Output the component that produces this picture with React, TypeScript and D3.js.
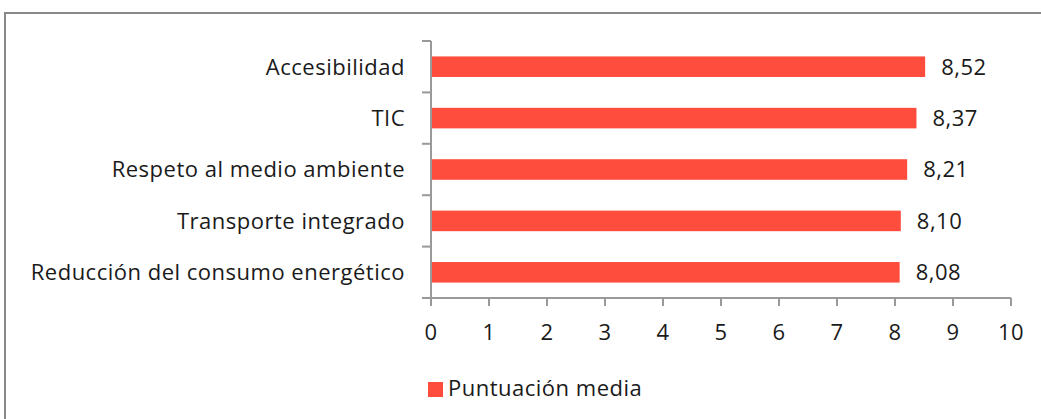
import React, { useEffect, useRef } from "react";
import * as d3 from "d3";

const categories = [
  "Accesibilidad",
  "TIC",
  "Respeto al medio ambiente",
  "Transporte integrado",
  "Reducción del consumo energético",
];
const values = [8.52, 8.37, 8.21, 8.1, 8.08];
const xTicks = [0, 1, 2, 3, 4, 5, 6, 7, 8, 9, 10];
const seriesName = "Puntuación media";

const W = 1041;
const H = 419;
const BAR = "#FF4D3D";
const AXIS = "#999";
const FONT = "'Open Sans', 'Noto Sans', sans-serif";
const FS = 22;
const LS = 0.5;

export default function App() {
  const ref = useRef<SVGSVGElement>(null);

  useEffect(() => {
    const svg = d3.select(ref.current);
    svg.selectAll("*").remove();

    // outer frame
    svg
      .append("rect")
      .attr("x", 5)
      .attr("y", 13)
      .attr("width", W + 20)
      .attr("height", H + 20)
      .attr("fill", "#fff")
      .attr("stroke", "#888")
      .attr("stroke-width", 2);

    const x = d3.scaleLinear().domain([0, 10]).range([431, 1011]);
    const y = d3.scaleBand().domain(categories).range([41, 298]).paddingInner(0.6).paddingOuter(0.3);
    const step = y.step();

    const g = svg.append("g");

    const txt = (sel: any) =>
      sel
        .attr("font-family", FONT)
        .attr("font-size", FS)
        .attr("letter-spacing", LS)
        .attr("fill", "#1a1a1a");

    // bars
    g.selectAll("rect.bar")
      .data(values)
      .enter()
      .append("rect")
      .attr("class", "bar")
      .attr("x", x(0))
      .attr("y", (_, i) => y(categories[i])!)
      .attr("width", (d) => x(d) - x(0))
      .attr("height", y.bandwidth())
      .attr("fill", BAR);

    // value labels
    g.selectAll("text.val")
      .data(values)
      .enter()
      .append("text")
      .attr("class", "val")
      .attr("x", (d) => x(d) + 16)
      .attr("y", (_, i) => y(categories[i])! + y.bandwidth() / 2)
      .attr("dy", "0.36em")
      .call(txt)
      .text((d) => d.toFixed(2).replace(".", ","));

    // y axis
    const yAxis = g.append("g");
    yAxis
      .append("line")
      .attr("x1", x(0))
      .attr("x2", x(0))
      .attr("y1", 41)
      .attr("y2", 298 + 8)
      .attr("stroke", AXIS)
      .attr("stroke-width", 2);
    yAxis
      .selectAll("line.yt")
      .data(d3.range(categories.length + 1))
      .enter()
      .append("line")
      .attr("x1", x(0) - 9)
      .attr("x2", x(0))
      .attr("y1", (i) => 41 + i * step)
      .attr("y2", (i) => 41 + i * step)
      .attr("stroke", AXIS)
      .attr("stroke-width", 2);
    yAxis
      .selectAll("text")
      .data(categories)
      .enter()
      .append("text")
      .attr("x", x(0) - 26)
      .attr("y", (d) => y(d)! + y.bandwidth() / 2)
      .attr("dy", "0.36em")
      .attr("text-anchor", "end")
      .call(txt)
      .text((d) => d);

    // x axis
    const xAxis = g.append("g");
    xAxis
      .append("line")
      .attr("x1", x(0) - 9)
      .attr("x2", x(10))
      .attr("y1", 298)
      .attr("y2", 298)
      .attr("stroke", AXIS)
      .attr("stroke-width", 2);
    xAxis
      .selectAll("line.xt")
      .data(xTicks)
      .enter()
      .append("line")
      .attr("x1", (d) => x(d))
      .attr("x2", (d) => x(d))
      .attr("y1", 298)
      .attr("y2", 306)
      .attr("stroke", AXIS)
      .attr("stroke-width", 2);
    xAxis
      .selectAll("text")
      .data(xTicks)
      .enter()
      .append("text")
      .attr("x", (d) => x(d))
      .attr("y", 340)
      .attr("text-anchor", "middle")
      .call(txt)
      .text((d) => String(d));

    // legend
    const lg = svg.append("g");
    lg.append("rect")
      .attr("x", 428)
      .attr("y", 382)
      .attr("width", 15)
      .attr("height", 15)
      .attr("fill", BAR);
    lg.append("text")
      .attr("x", 448)
      .attr("y", 396)
      .call(txt)
      .text(seriesName);
  }, []);

  return (
    <svg
      ref={ref}
      width={W}
      height={H}
      style={{ position: "absolute", left: 0, top: 0, display: "block", background: "#fff" }}
    />
  );
}
